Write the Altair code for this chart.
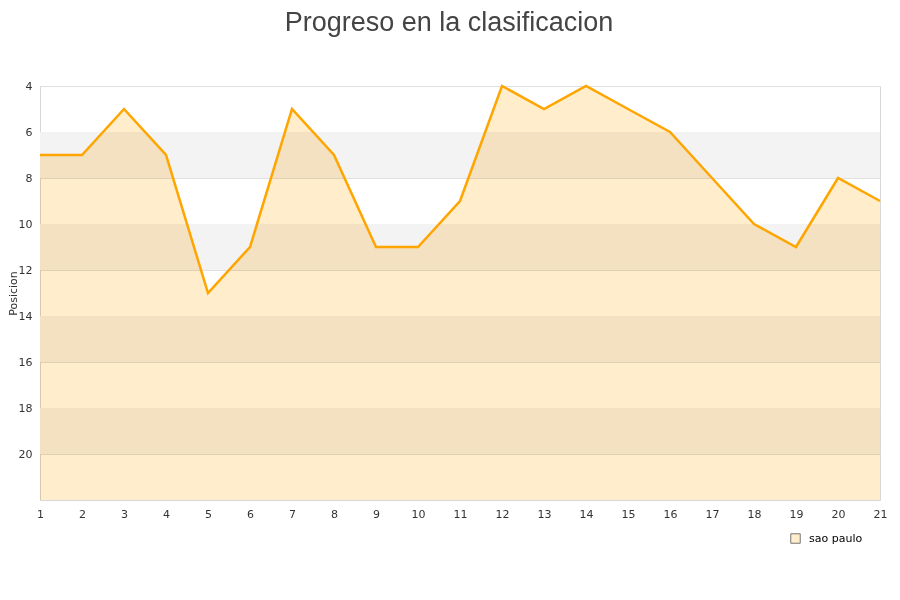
import altair as alt
import pandas as pd

jornadas = list(range(1, 22))
posiciones = [7, 7, 5, 7, 13, 11, 5, 7, 11, 11, 9, 4, 5, 4, 5, 6, 8, 10, 11, 8, 9]
equipo = "sao paulo"
band_starts = [6, 10, 14, 18]
band_ends = [8, 12, 16, 20]

df = pd.DataFrame({"jornada": jornadas, "pos": posiciones, "equipo": equipo})
bands = pd.DataFrame({"y0": band_starts, "y1": band_ends})

yscale = alt.Scale(domain=[4, 22], reverse=True, nice=False, zero=False)
xscale = alt.Scale(domain=[1, 21], nice=False, zero=False)

band_layer = alt.Chart(bands).mark_rect(color="#f3f3f3").encode(
    x=alt.value(0), x2=alt.value(840),
    y=alt.Y("y0:Q", scale=yscale), y2="y1:Q",
)

area = alt.Chart(df).mark_area(blend="multiply").encode(
    x=alt.X("jornada:Q", scale=xscale,
            axis=alt.Axis(values=jornadas, title=None, grid=False, ticks=False,
                          labelPadding=8, domain=False, format="d",
                          labelFlush=False, labelOverlap=False)),
    y=alt.Y("pos:Q", scale=yscale,
            axis=alt.Axis(values=[4, 6, 8, 10, 12, 14, 16, 18, 20], title="Posicion",
                          grid=True, ticks=False, domain=False, labelPadding=8,
                          titleX=-22, titleY=207, titleAngle=-90, titleBaseline="bottom",
                          titleAlign="center", labelFlush=False)),
    y2=alt.datum(22),
    fill=alt.Fill("equipo:N", scale=alt.Scale(range=["#ffedcc"]),
                  legend=alt.Legend(title=None, orient="none", legendX=750, legendY=447,
                                    symbolType="square", symbolSize=90,
                                    symbolStrokeColor="#777", symbolStrokeWidth=1,
                                    symbolOpacity=1,
                                    labelFontSize=11, labelColor="#000", labelOffset=8)),
)

line = alt.Chart(df).mark_line(color="#ffa500", strokeWidth=2.5).encode(
    x=alt.X("jornada:Q", scale=xscale),
    y=alt.Y("pos:Q", scale=yscale),
)

chart = alt.layer(band_layer, area, line).properties(
    width=840, height=414,
    title=alt.TitleParams("Progreso en la clasificacion", fontSize=27, font="Liberation Sans",
                          fontWeight="normal", color="#444444", anchor="middle", offset=43,
                          dx=-11),
    autosize=alt.AutoSizeParams(type="none"),
    padding={"left": 32, "top": 78, "right": 12, "bottom": 76},
).configure_view(stroke="#d8d8d8").configure_axis(
    labelFont="DejaVu Sans", labelFontSize=11, labelColor="#333",
    titleFont="DejaVu Sans", titleFontSize=11, titleColor="#333", titleFontWeight="normal",
    gridColor="#e0e0e0",
).configure_legend(labelFont="DejaVu Sans")

chart.save("out.html", embed_options={"renderer": "svg", "actions": False})
